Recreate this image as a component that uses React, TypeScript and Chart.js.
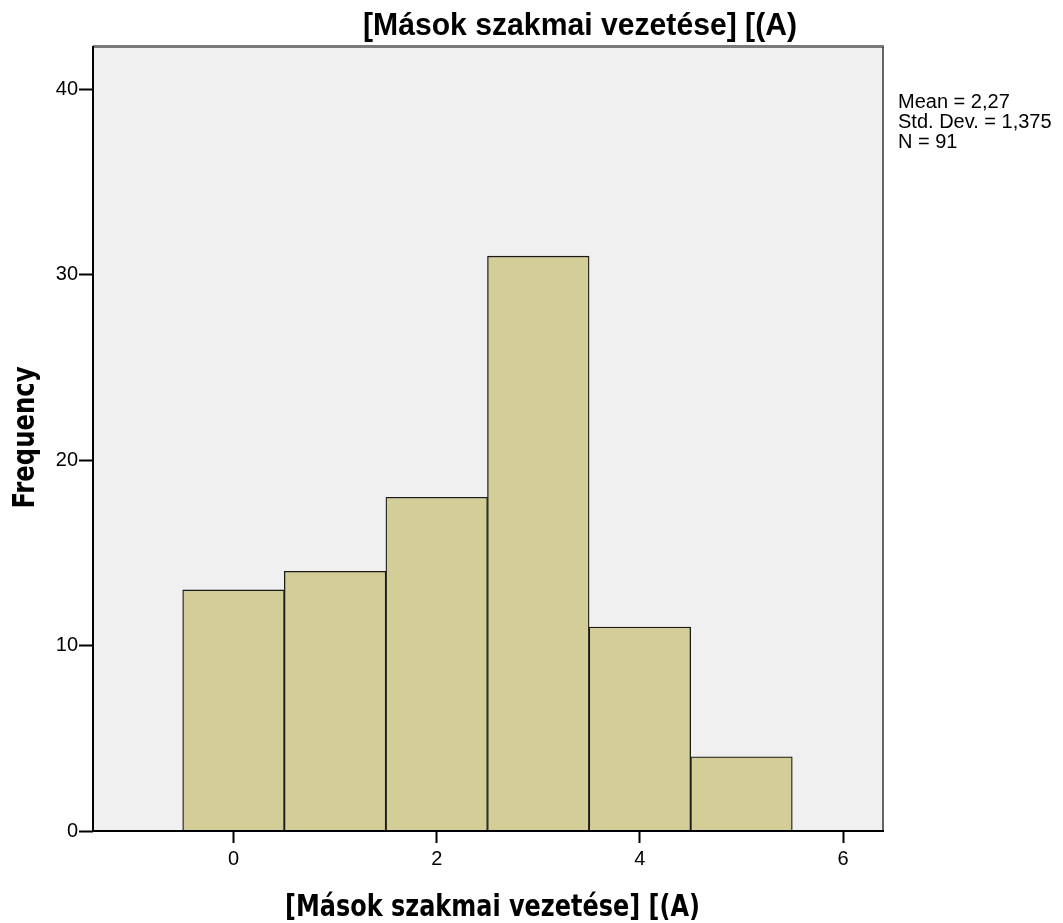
import React, { useEffect, useRef } from "react";
import { Chart, registerables } from "chart.js";

Chart.register(...registerables);

const chartTitle = "[Mások szakmai vezetése] [(A)";
const xAxisTitle = "[Mások szakmai vezetése] [(A)";
const yAxisTitle = "Frequency";
const binCenters = [0, 1, 2, 3, 4, 5];
const frequencies = [13, 14, 18, 31, 11, 4];
const xTickValues = [0, 2, 4, 6];
const yTickValues = [0, 10, 20, 30, 40];
const statsLines = ["Mean = 2,27", "Std. Dev. = 1,375", "N = 91"];

const framePlugin = {
  id: "spssFrame",
  beforeDraw(chart: any) {
    const { ctx, chartArea: a } = chart;
    ctx.save();
    ctx.fillStyle = "#f0f0f0";
    ctx.fillRect(a.left, a.top, a.right - a.left, a.bottom - a.top);
    ctx.restore();
  },
  afterDraw(chart: any) {
    const { ctx, chartArea: a } = chart;
    ctx.save();
    // frame
    ctx.strokeStyle = "#7a7a7a";
    ctx.lineWidth = 3;
    ctx.beginPath();
    ctx.moveTo(a.left, a.top - 0.5);
    ctx.lineTo(a.right + 1, a.top - 0.5);
    ctx.stroke();
    ctx.strokeStyle = "#333";
    ctx.lineWidth = 1.5;
    ctx.beginPath();
    ctx.moveTo(a.right, a.top);
    ctx.lineTo(a.right, a.bottom);
    ctx.stroke();
    ctx.strokeStyle = "#000";
    ctx.lineWidth = 2;
    ctx.beginPath();
    ctx.moveTo(a.left, a.top - 1);
    ctx.lineTo(a.left, a.bottom);
    ctx.lineTo(a.right + 1, a.bottom);
    ctx.stroke();

    ctx.fillStyle = "#000";
    // main title
    ctx.font = "bold 31px 'Liberation Sans', Arial, sans-serif";
    ctx.textAlign = "center";
    ctx.textBaseline = "alphabetic";
    ctx.fillText(chartTitle, 580, 35, 434);

    // x axis title
    ctx.font = "bold 30px 'DejaVu Sans Condensed', 'DejaVu Sans', sans-serif";
    ctx.fillText(xAxisTitle, 492.5, 916, 415);

    // y axis title
    ctx.save();
    ctx.translate(34, 437.5);
    ctx.rotate(-Math.PI / 2);
    ctx.fillText(yAxisTitle, 0, 0, 142);
    ctx.restore();

    // stats
    ctx.font = "20px 'Liberation Sans', Arial, sans-serif";
    ctx.textAlign = "left";
    statsLines.forEach((t, i) => {
      ctx.fillText(t, 898, 108 + i * 20, 160);
    });
    ctx.restore();
  },
};

export default function App() {
  const ref = useRef<HTMLCanvasElement | null>(null);

  useEffect(() => {
    if (!ref.current) return;
    const chart = new Chart(ref.current, {
      type: "bar",
      data: {
        datasets: [
          {
            data: binCenters.map((x, i) => ({ x, y: frequencies[i] })),
            backgroundColor: "#d3ce97",
            borderColor: "#1a1a1a",
            borderWidth: 1.3,
            barPercentage: 1,
            categoryPercentage: 1,
          } as any,
        ],
      },
      options: {
        animation: false,
        responsive: false,
        events: [],
        layout: { padding: { top: 47, right: 180, left: 0, bottom: 0 } },
        plugins: {
          legend: { display: false },
          tooltip: { enabled: false },
          title: { display: false },
        },
        scales: {
          x: {
            type: "linear",
            min: -1.383,
            max: 6.393,
            offset: false,
            afterBuildTicks: (s: any) => {
              s.ticks = xTickValues.map((v) => ({ value: v }));
            },
            afterFit: (s: any) => {
              s.height = 92;
            },
            grid: {
              offset: false,
              drawOnChartArea: false,
              drawTicks: true,
              tickLength: 12,
              tickWidth: 2,
              tickColor: "#000",
            },
            border: { display: false },
            ticks: {
              color: "#000",
              font: { family: "'Liberation Sans', Arial, sans-serif", size: 20 },
              padding: 4,
              maxRotation: 0,
              autoSkip: false,
            },
          },
          y: {
            type: "linear",
            min: 0,
            max: 42.28,
            afterBuildTicks: (s: any) => {
              s.ticks = yTickValues.map((v) => ({ value: v }));
            },
            afterFit: (s: any) => {
              s.width = 93;
            },
            grid: {
              drawOnChartArea: false,
              drawTicks: true,
              tickLength: 14,
              tickWidth: 2,
              tickColor: "#000",
            },
            border: { display: false },
            ticks: {
              color: "#000",
              font: { family: "'Liberation Sans', Arial, sans-serif", size: 20 },
              padding: 1,
              autoSkip: false,
            },
          },
        },
      } as any,
      plugins: [framePlugin],
    });
    return () => chart.destroy();
  }, []);

  return (
    <div style={{ position: "fixed", left: 0, top: 0, width: 1063, height: 923, background: "#fff" }}>
      <canvas ref={ref} width={1063} height={923} style={{ display: "block" }} />
    </div>
  );
}
